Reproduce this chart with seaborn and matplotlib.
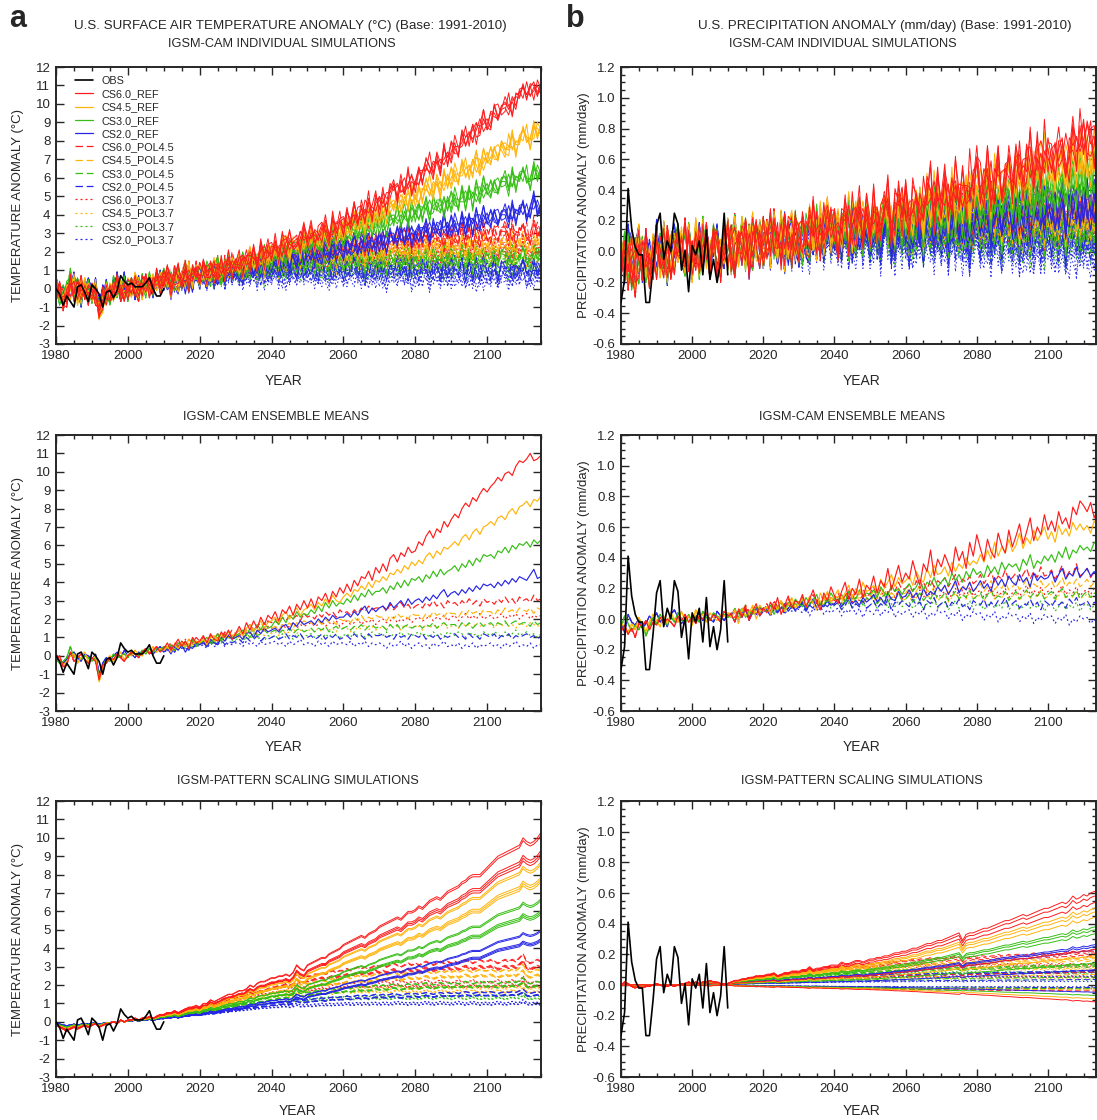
import numpy as np
import pandas as pd
import matplotlib
matplotlib.use("Agg")
import matplotlib.pyplot as plt
from matplotlib.lines import Line2D
from matplotlib.ticker import MultipleLocator, NullLocator, FormatStrFormatter
import seaborn as sns

# ---------------------------------------------------------------- data
YEARS = list(range(1980, 2116))
OBS_YEARS = list(range(1980, 2011))

OBS_TEMP = [0.0, -0.3, -0.9, -0.4, -0.7, -1.0, 0.1, 0.2, -0.2, -0.7,
            0.2, 0.0, -0.3, -1.0, -0.2, -0.1, -0.5, -0.1, 0.7, 0.4,
            0.2, 0.3, 0.1, 0.1, 0.1, 0.3, 0.6, 0.0, -0.4, -0.4, 0.0]
OBS_PRCP = [-0.33, -0.18, 0.41, 0.15, 0.03, -0.02, -0.02, -0.33, -0.33, -0.10,
            0.17, 0.25, -0.05, 0.07, 0.00, 0.25, 0.18, -0.12, 0.01, -0.26,
            0.04, -0.02, 0.07, -0.15, 0.14, -0.18, -0.05, -0.20, -0.07, 0.25, -0.15]

CS_NAMES = ["CS6.0", "CS4.5", "CS3.0", "CS2.0"]
POLICY_NAMES = ["REF", "POL4.5", "POL3.7"]

# --- IGSM-CAM ensemble-mean temperature, units of 0.1 degC
# history 1980-2010 (per climate sensitivity)
T_HIST_CS60 = [-3, 0, -6, -5, 2, -3, -1, 1, -2, -4, -1, -3, -13, -5, -4, -1, -2, 1, -1, -3, 0, 2, 1, -1, 2, 4, 1, 3, 5, 2, 4]
T_HIST_CS45 = [-1, -2, -5, -3, 0, 1, -4, -1, 2, -3, -2, 0, -14, -7, -3, 0, -3, 0, 2, -2, 1, 0, 3, 1, 0, 3, 2, 5, 2, 4, 3]
T_HIST_CS30 = [-2, -4, -3, -1, 5, -1, 0, -2, 0, -1, -3, -1, -11, -6, -2, -3, 1, -1, 0, 1, -1, 2, 1, 0, 3, 1, 4, 2, 4, 3, 5]
T_HIST_CS20 = [1, -3, -4, -2, 1, 2, -1, -3, 1, 0, -2, 1, -10, -4, -1, -2, 0, 2, -1, 3, 0, 1, -1, 2, 1, 3, 2, 1, 3, 5, 2]
# future 2011-2115 (per scenario)
T_CS60_REF = [7, 3, 6, 9, 5, 8, 4, 10, 7, 8, 11, 7, 12, 9, 8, 13, 10, 14, 9, 12,
              16, 12, 18, 14, 19, 15, 21, 17, 22, 20, 24, 19, 25, 23, 27, 22, 28, 25, 30, 26,
              31, 26, 32, 30, 34, 29, 35, 32, 37, 34, 39, 35, 41, 38, 43, 42, 46, 41, 48, 45,
              50, 46, 53, 55, 51, 56, 54, 59, 56, 57, 62, 60, 65, 68, 64, 69, 67, 73, 70, 74,
              77, 75, 80, 83, 81, 86, 84, 88, 91, 89, 92, 94, 97, 95, 99, 100, 98, 103, 106, 105,
              107, 110, 106, 107, 109]
T_CS45_REF = [5, 2, 6, 4, 7, 5, 9, 6, 8, 7, 9, 6, 10, 11, 8, 12, 10, 13, 11, 12,
              14, 11, 15, 17, 13, 16, 19, 15, 18, 19, 21, 18, 22, 24, 20, 23, 26, 22, 25, 26,
              28, 25, 29, 27, 31, 28, 33, 30, 29, 32, 34, 32, 36, 35, 38, 36, 40, 37, 41, 40,
              43, 41, 45, 44, 47, 45, 49, 47, 51, 49, 52, 50, 54, 56, 53, 57, 55, 59, 58, 60,
              62, 60, 64, 66, 63, 67, 69, 66, 70, 71, 73, 71, 75, 76, 74, 78, 80, 77, 81, 82,
              84, 81, 85, 84, 87]
T_CS30_REF = [4, 6, 3, 7, 5, 8, 4, 9, 6, 7, 8, 10, 7, 9, 12, 8, 11, 13, 10, 11,
              12, 14, 11, 15, 13, 17, 14, 18, 15, 16, 19, 17, 21, 18, 22, 20, 24, 21, 23, 22,
              25, 23, 27, 24, 29, 26, 30, 27, 29, 28, 31, 29, 33, 30, 34, 32, 36, 33, 35, 35,
              37, 34, 38, 36, 40, 37, 41, 38, 42, 41, 43, 40, 44, 42, 46, 43, 47, 44, 46, 47,
              49, 46, 50, 48, 52, 49, 53, 51, 55, 54, 55, 53, 57, 56, 59, 56, 60, 58, 61, 60,
              62, 59, 63, 61, 63]
T_CS20_REF = [4, 1, 5, 3, 6, 2, 5, 4, 7, 6, 8, 5, 9, 7, 6, 10, 8, 11, 9, 10,
              11, 9, 12, 13, 10, 14, 12, 15, 13, 14, 15, 13, 16, 17, 14, 18, 16, 19, 17, 18,
              19, 17, 20, 18, 21, 19, 22, 20, 21, 21, 23, 21, 24, 22, 25, 27, 23, 26, 24, 26,
              27, 25, 29, 26, 28, 30, 27, 31, 28, 30, 31, 29, 32, 30, 33, 31, 34, 36, 32, 34,
              35, 33, 36, 34, 37, 35, 38, 36, 39, 38, 39, 37, 40, 38, 41, 39, 42, 40, 43, 42,
              41, 44, 47, 42, 43]
T_CS60_POL45 = [6, 4, 7, 5, 8, 6, 9, 7, 10, 8, 10, 8, 11, 9, 12, 10, 13, 11, 14, 12,
                14, 12, 15, 17, 14, 16, 18, 15, 19, 18, 20, 17, 21, 19, 22, 20, 22, 19, 23, 21,
                22, 20, 23, 21, 24, 22, 24, 21, 25, 23, 24, 22, 25, 23, 26, 24, 27, 25, 26, 26,
                27, 24, 28, 25, 27, 29, 26, 28, 25, 27, 28, 26, 29, 27, 30, 27, 29, 26, 30, 28,
                29, 27, 30, 28, 31, 28, 30, 27, 31, 29, 30, 28, 31, 29, 32, 29, 31, 28, 32, 30,
                31, 29, 33, 30, 31]
T_CS45_POL45 = [4, 6, 3, 7, 5, 8, 5, 9, 6, 7, 8, 7, 10, 8, 11, 9, 12, 10, 11, 11,
                12, 11, 14, 12, 15, 13, 16, 14, 15, 15, 16, 14, 17, 16, 18, 15, 18, 17, 19, 18,
                18, 17, 19, 17, 20, 18, 19, 17, 20, 19, 20, 18, 21, 19, 22, 19, 21, 20, 22, 21,
                21, 19, 22, 20, 23, 21, 22, 20, 23, 22, 22, 20, 23, 21, 24, 22, 23, 21, 24, 23,
                23, 21, 24, 22, 25, 23, 24, 22, 25, 24, 24, 22, 25, 23, 26, 24, 25, 23, 26, 25,
                24, 26, 23, 26, 25]
T_CS30_POL45 = [5, 3, 6, 4, 7, 5, 6, 8, 5, 7, 8, 6, 9, 7, 10, 8, 9, 11, 9, 10,
                11, 9, 12, 10, 13, 11, 12, 14, 12, 13, 14, 12, 14, 13, 15, 12, 14, 15, 13, 14,
                15, 13, 15, 14, 16, 13, 15, 16, 14, 15, 16, 14, 16, 15, 17, 14, 16, 17, 15, 16,
                16, 14, 17, 15, 17, 14, 16, 17, 15, 16, 17, 15, 17, 16, 18, 15, 17, 18, 16, 17,
                17, 15, 18, 16, 18, 15, 17, 18, 16, 17, 18, 16, 18, 17, 19, 16, 18, 19, 17, 18,
                18, 16, 19, 17, 18]
T_CS20_POL45 = [3, 5, 2, 6, 4, 5, 3, 7, 5, 6, 7, 5, 8, 6, 7, 9, 6, 8, 7, 8,
                9, 7, 10, 8, 9, 11, 8, 10, 9, 10, 11, 9, 10, 12, 9, 11, 10, 12, 9, 10,
                11, 9, 10, 12, 9, 11, 10, 12, 9, 10, 11, 9, 12, 10, 11, 9, 12, 10, 11, 11,
                12, 10, 11, 9, 12, 10, 11, 9, 12, 11, 10, 12, 9, 11, 10, 12, 9, 11, 10, 11,
                12, 10, 11, 9, 12, 10, 11, 9, 12, 11, 10, 12, 9, 11, 10, 12, 9, 11, 10, 11,
                12, 10, 11, 9, 11]
T_CS60_POL37 = [5, 7, 4, 8, 6, 9, 5, 8, 7, 8, 9, 7, 10, 8, 11, 9, 12, 10, 11, 11,
                12, 10, 13, 12, 14, 12, 15, 13, 16, 15, 16, 14, 17, 15, 16, 18, 15, 17, 16, 17,
                18, 16, 17, 19, 16, 18, 17, 19, 16, 18, 19, 17, 18, 20, 17, 19, 18, 20, 17, 19,
                20, 18, 19, 21, 18, 20, 19, 21, 18, 20, 21, 19, 20, 22, 19, 21, 20, 22, 19, 21,
                22, 19, 21, 23, 20, 22, 20, 23, 20, 21, 22, 20, 21, 23, 20, 22, 21, 23, 20, 22,
                23, 20, 22, 21, 22]
T_CS45_POL37 = [6, 4, 7, 5, 8, 6, 7, 5, 8, 7, 8, 6, 9, 7, 10, 8, 9, 11, 9, 10,
                10, 9, 11, 10, 12, 10, 12, 11, 13, 12, 13, 11, 14, 12, 13, 15, 12, 14, 13, 14,
                14, 13, 15, 13, 16, 14, 15, 13, 16, 15, 15, 13, 16, 14, 15, 17, 14, 16, 14, 15,
                16, 14, 17, 15, 16, 14, 17, 15, 16, 16, 16, 14, 17, 15, 17, 15, 16, 18, 15, 16,
                17, 15, 18, 16, 17, 15, 18, 16, 17, 17, 17, 15, 18, 16, 18, 16, 17, 15, 18, 17,
                16, 18, 17, 16, 17]
T_CS30_POL37 = [4, 6, 3, 5, 7, 4, 6, 5, 7, 6, 7, 5, 8, 6, 9, 7, 8, 10, 8, 9,
                9, 8, 10, 9, 11, 9, 10, 8, 11, 10, 11, 9, 12, 10, 11, 9, 12, 10, 11, 11,
                12, 10, 11, 9, 12, 10, 13, 11, 10, 11, 12, 10, 13, 11, 12, 10, 11, 13, 11, 12,
                11, 13, 10, 12, 11, 13, 10, 12, 11, 12, 13, 11, 12, 10, 13, 11, 12, 10, 13, 12,
                11, 13, 12, 10, 13, 11, 12, 10, 13, 12, 11, 13, 12, 10, 13, 11, 12, 14, 11, 12,
                13, 11, 12, 10, 12]
T_CS20_POL37 = [3, 5, 2, 4, 6, 3, 5, 4, 6, 5, 6, 4, 7, 5, 6, 8, 5, 7, 6, 7,
                7, 5, 8, 6, 7, 5, 8, 6, 7, 7, 8, 6, 7, 5, 8, 6, 7, 9, 6, 7,
                7, 5, 8, 6, 7, 5, 8, 6, 7, 7, 6, 8, 5, 7, 6, 8, 5, 7, 6, 7,
                6, 4, 7, 5, 6, 8, 5, 7, 4, 6, 7, 5, 6, 4, 7, 5, 6, 8, 5, 6,
                5, 7, 4, 6, 5, 7, 4, 6, 5, 6, 7, 5, 6, 4, 7, 5, 6, 8, 5, 6,
                5, 7, 4, 6, 6]

# --- individual-member deviations from the ensemble mean, 0.1 degC (1980-2115)
T_DEV_1 = [3, -5, 2, -1, 6, -4, 1, -7, 4, 0, -3, 5, -2, -6, 3, 1, -4, 7, -1, -3,
           2, -5, 6, 0, -2, 4, -6, 3, -1, 5, -3, 2, -7, 1, 4, -2, 0, 6, -5, 3,
           -1, -4, 5, 2, -6, 1, 3, -3, 7, -2, 0, -5, 4, -1, 6, -3, 2, -6, 1, 5,
           -4, 0, 3, -7, 2, 4, -1, -5, 6, -2, 1, -3, 5, -6, 3, 0, -4, 7, -2, -1,
           4, -5, 2, 6, -3, 1, -7, 3, 0, -2, 5, -4, 6, -1, 2, -5, 3, -3, 7, -6,
           1, 4, -2, 0, -5, 5, -1, 3, -6, 2, -4, 6, 1, -3, -1, 4, -7, 5, 0, -2,
           3, -5, 6, -4, 2, -1, -6, 4, 1, -3, 5, -2, 0, -4, 6, -1]
T_DEV_2 = [-4, 2, 5, -3, -1, 7, -5, 2, -2, 6, 1, -6, 3, 4, -2, -5, 6, -1, 3, -4,
           5, 1, -3, -6, 4, 2, -1, -5, 6, 0, -2, 5, 3, -4, -6, 2, 7, -3, 1, -1,
           6, -2, -5, 3, 0, -4, 5, -6, 2, 4, -3, 1, 6, -2, -5, 4, -1, 3, -7, 2,
           5, -3, 0, 6, -4, -2, 5, 1, -6, 3, -1, 4, -5, 2, 6, -3, 1, -4, 0, 5,
           -6, 2, 3, -1, -4, 5, -2, 7, -5, 1, 3, -6, 0, 4, -2, 5, -4, 1, -3, 6,
           -5, 2, 4, -1, 6, -3, 0, -6, 3, 1, 5, -4, -2, 6, -1, 3, -5, 2, 4, -6,
           0, 3, -1, -5, 4, 2, -3, 6, -4, 1, -2, 5, -6, 3, 0, -3]
T_DEV_3 = [6, -1, -4, 3, -6, 2, 5, -2, 1, -5, 4, 0, -3, 6, -1, -4, 2, 5, -6, 1,
           -2, 4, -5, 3, 1, -6, 5, -1, -3, 2, 6, -4, 0, 3, -2, -5, 4, 1, -6, 5,
           -3, 2, -1, -6, 4, 5, -2, 0, -4, 6, 1, -3, 5, -5, 0, 3, -6, 4, 2, -1,
           -5, 6, -2, 1, 4, -6, 3, -1, -3, 5, 2, -4, 6, -2, -5, 3, 1, -6, 4, 0,
           -1, 5, -3, -4, 6, 2, -5, 1, 3, -6, 4, -1, -5, 2, 0, 6, -3, -2, 5, -4,
           1, -6, 3, 5, -2, -1, 4, -5, 6, -3, 0, 2, -4, 5, -6, 1, 3, -2, -5, 6,
           -3, 4, 1, -6, 2, 5, -1, -4, 3, -2, 6, -5, 1, 4, -3, 2]
T_DEV_4 = [-2, 4, -6, 5, 1, -3, -1, 6, -4, 2, -5, 3, 1, -2, 6, -6, 0, 4, -3, 5,
           -1, -4, 2, 5, -6, 3, 1, -2, 4, -5, 0, 6, -3, -1, 5, -4, 2, -6, 3, 1,
           -5, 4, 0, -2, 6, -3, -6, 5, -1, 2, 4, -6, 1, 3, -2, 5, -4, 0, 6, -3,
           -1, 2, -6, 4, 5, -3, 1, -5, 2, 6, -4, -1, 3, -5, 0, 6, -2, 4, -6, 1,
           5, -3, -2, 4, 1, -6, 6, -1, -4, 3, -2, 5, -6, 1, 4, -3, 0, 6, -5, 2,
           -1, 3, -4, 6, -2, -5, 5, 1, -3, 4, -6, 0, 2, -1, 5, -4, 3, -6, 1, 6,
           -3, -2, 5, -5, 4, 1, -1, 3, -6, 2, 4, -4, -1, 6, -2, 3]
T_DEV_5 = [1, 3, -3, -5, 4, 0, 6, -4, -2, 5, -1, -3, 6, 2, -5, 3, -2, -4, 1, 6,
           -6, 2, 0, -3, 5, -1, 4, -6, 2, -2, 5, -1, -4, 6, -3, 1, -5, 3, -2, 4,
           -6, 5, 2, -1, -3, 6, -5, 1, 3, -4, 2, 5, -6, 0, 4, -2, -3, 6, -1, -5,
           3, -2, 4, -1, -6, 5, 0, -3, 6, -4, 2, 6, -1, -3, 5, -4, -6, 2, 3, -1,
           -5, 4, 0, 6, -2, -3, 1, -5, 4, 5, -6, 2, 3, -4, 1, -1, 6, -3, -2, 5,
           0, -5, 4, 2, -6, 3, 1, -2, 5, -4, 6, -1, -3, 4, -5, 2, 0, 6, -4, 1,
           -2, -6, 5, 3, -1, -3, 6, -5, 2, 0, 4, -2, -5, 1, 3, -4]

# --- IGSM-CAM ensemble-mean precipitation, units of 0.01 mm/day
P_HIST_CS60 = [-8, -4, -10, -6, -12, -3, -5, -1, -7, -2, -4, 1, -3, 0, -2, -5, 2, -1, 3, -2, 1, -3, 2, 0, 4, -1, 3, 1, -2, 5, 2]
P_HIST_CS45 = [-2, -6, -9, -3, -7, 1, -4, -8, -2, 3, -1, -5, 2, -3, 4, 0, -2, 5, -1, 2, -4, 6, 0, 3, -2, 4, 1, -1, 3, 2, 4]
P_HIST_CS30 = [-6, 2, -3, -8, -4, -7, -2, -11, -5, 1, -3, 3, -1, -4, 2, -2, 4, 0, -3, 3, -1, 2, -2, 5, 1, -1, 4, 2, 0, 3, 1]
P_HIST_CS20 = [-3, -9, 3, -2, -4, 0, -6, -3, 2, -1, 4, -2, 1, -5, 3, 6, 1, -3, 0, 2, -2, 1, 4, -1, 3, 0, -2, 5, 2, -1, 3]
P_CS60_REF = [3, -2, 6, 1, 8, -1, 5, 10, 2, 7, 4, 11, 6, 14, 3, 9, 15, 7, 12, 10,
              16, 8, 13, 19, 11, 6, 17, 12, 21, 15, 10, 18, 24, 13, 20, 16, 26, 14, 22, 19,
              28, 17, 25, 21, 33, 19, 27, 35, 24, 30, 26, 38, 29, 22, 36, 31, 45, 28, 39, 34,
              42, 36, 30, 47, 38, 44, 33, 50, 41, 55, 46, 38, 52, 44, 40, 56, 48, 43, 58, 47,
              54, 62, 49, 57, 66, 51, 60, 55, 68, 58, 64, 57, 70, 62, 66, 59, 73, 68, 77, 74,
              70, 76, 66, 72, 68]
P_CS45_REF = [1, 5, -3, 7, 2, 4, 9, 0, 6, 5, 8, 3, 10, 6, 12, 5, 9, 14, 7, 11,
              13, 8, 15, 10, 6, 17, 12, 18, 11, 15, 19, 13, 17, 22, 14, 20, 16, 24, 18, 19,
              22, 17, 26, 20, 24, 29, 21, 27, 23, 25, 28, 22, 31, 26, 24, 33, 27, 35, 29, 30,
              34, 28, 37, 31, 36, 33, 40, 35, 38, 36, 42, 37, 45, 39, 50, 41, 47, 43, 52, 44,
              48, 56, 46, 53, 49, 58, 51, 55, 60, 52, 57, 50, 61, 55, 59, 54, 63, 58, 62, 58,
              61, 56, 64, 60, 62]
P_CS30_REF = [2, -1, 4, 7, 1, 5, 3, 8, 4, 6, 5, 9, 3, 8, 11, 6, 10, 7, 13, 10,
              8, 14, 10, 12, 16, 9, 13, 11, 17, 13, 12, 16, 11, 18, 14, 13, 19, 15, 17, 16,
              19, 14, 21, 17, 15, 22, 18, 20, 16, 20, 23, 18, 21, 26, 19, 24, 22, 27, 21, 24,
              27, 22, 30, 25, 29, 24, 31, 27, 33, 29, 31, 27, 35, 30, 34, 29, 37, 32, 36, 34,
              36, 31, 39, 35, 42, 33, 38, 36, 41, 38, 42, 37, 44, 40, 47, 39, 45, 43, 48, 45,
              47, 44, 50, 48, 52]
P_CS20_REF = [3, -2, 5, 1, 6, -1, 4, 7, 2, 5, 6, 3, 9, 4, 7, 10, 5, 8, 6, 8,
              11, 6, 9, 13, 7, 10, 8, 12, 9, 10, 13, 8, 11, 15, 10, 12, 9, 14, 11, 13,
              16, 11, 14, 10, 17, 13, 12, 18, 14, 15, 19, 14, 17, 12, 20, 15, 18, 16, 21, 18,
              22, 16, 20, 25, 17, 21, 19, 24, 18, 21, 25, 20, 23, 18, 27, 22, 26, 21, 28, 24,
              22, 29, 24, 27, 21, 30, 25, 28, 26, 27, 31, 24, 29, 33, 26, 30, 28, 34, 27, 30,
              33, 28, 31, 27, 30]
P_CS60_POL45 = [4, 1, 7, 3, 9, 5, 2, 8, 6, 7, 10, 5, 12, 8, 11, 6, 13, 9, 12, 11,
                14, 9, 12, 16, 10, 15, 13, 17, 11, 14, 17, 12, 15, 19, 13, 18, 16, 20, 14, 17,
                21, 15, 19, 23, 17, 20, 18, 24, 19, 20, 22, 18, 25, 20, 24, 19, 26, 21, 25, 23,
                27, 21, 25, 29, 22, 26, 24, 28, 23, 25, 29, 23, 27, 31, 24, 28, 26, 32, 25, 27,
                30, 25, 29, 33, 26, 31, 27, 34, 28, 29, 32, 26, 30, 35, 27, 31, 29, 36, 28, 30,
                33, 27, 31, 29, 30]
P_CS45_POL45 = [2, 6, 0, 5, 8, 3, 7, 4, 9, 6, 8, 4, 10, 7, 12, 6, 9, 11, 7, 10,
                12, 8, 14, 10, 13, 9, 15, 11, 14, 13, 15, 11, 17, 13, 16, 12, 18, 14, 16, 15,
                18, 13, 16, 20, 14, 17, 15, 19, 16, 17, 20, 15, 18, 22, 16, 19, 17, 21, 18, 19,
                21, 17, 20, 23, 18, 22, 19, 24, 18, 20, 23, 18, 21, 25, 19, 22, 20, 24, 19, 21,
                24, 19, 22, 26, 20, 23, 21, 25, 20, 22, 25, 20, 23, 27, 21, 24, 22, 26, 21, 23,
                26, 21, 24, 22, 23]
P_CS30_POL45 = [3, 7, 1, 5, 9, 2, 6, 4, 8, 6, 7, 4, 10, 6, 9, 5, 11, 8, 10, 9,
                12, 7, 10, 13, 8, 11, 9, 14, 10, 11, 13, 9, 12, 10, 15, 11, 13, 9, 14, 12,
                15, 10, 13, 16, 11, 14, 12, 17, 12, 13, 16, 11, 14, 17, 12, 15, 13, 18, 13, 14,
                17, 12, 15, 18, 13, 16, 14, 19, 13, 15, 17, 12, 16, 19, 13, 15, 14, 18, 12, 15,
                18, 13, 16, 19, 14, 17, 15, 18, 13, 16, 18, 13, 17, 20, 14, 16, 15, 19, 13, 16,
                18, 14, 17, 15, 16]
P_CS20_POL45 = [2, 6, -1, 4, 7, 1, 5, 3, 8, 5, 6, 2, 8, 5, 9, 4, 7, 10, 5, 7,
                10, 5, 9, 7, 12, 6, 10, 8, 11, 9, 11, 6, 9, 13, 7, 10, 8, 12, 7, 9,
                12, 7, 10, 8, 13, 6, 11, 9, 12, 10, 8, 13, 9, 11, 6, 12, 10, 14, 8, 10,
                12, 7, 11, 9, 13, 8, 10, 6, 12, 10, 9, 13, 7, 11, 8, 12, 10, 14, 8, 10,
                12, 7, 10, 9, 13, 8, 11, 6, 12, 10, 8, 12, 9, 11, 7, 13, 10, 14, 9, 10,
                12, 8, 11, 9, 10]
P_CS60_POL37 = [2, 7, 1, 5, 9, 4, 8, 3, 7, 6, 9, 5, 11, 7, 12, 8, 10, 13, 9, 10,
                12, 8, 14, 10, 13, 9, 15, 11, 14, 12, 15, 10, 13, 17, 11, 14, 12, 16, 13, 14,
                16, 12, 15, 18, 13, 17, 14, 19, 13, 15, 17, 13, 16, 19, 14, 18, 15, 20, 14, 16,
                18, 13, 16, 20, 15, 19, 14, 21, 15, 17, 19, 14, 17, 21, 15, 18, 16, 20, 14, 17,
                19, 15, 18, 22, 16, 19, 15, 21, 16, 18, 20, 15, 18, 22, 16, 19, 17, 21, 15, 18,
                19, 16, 20, 17, 18]
P_CS45_POL37 = [4, 1, 6, 3, 8, 2, 7, 5, 9, 6, 7, 4, 9, 6, 11, 5, 10, 8, 10, 9,
                11, 7, 10, 13, 8, 12, 9, 14, 10, 11, 12, 9, 14, 10, 13, 11, 15, 10, 13, 12,
                14, 10, 13, 16, 11, 15, 12, 17, 12, 13, 15, 11, 14, 17, 12, 16, 13, 18, 12, 14,
                15, 11, 14, 17, 12, 16, 13, 18, 13, 14, 16, 12, 15, 18, 13, 17, 14, 18, 13, 15,
                16, 12, 15, 18, 13, 17, 14, 19, 13, 15, 16, 12, 15, 19, 13, 17, 14, 18, 13, 15,
                16, 13, 17, 14, 15]
P_CS30_POL37 = [3, 6, 0, 4, 8, 2, 5, 3, 7, 5, 6, 3, 9, 5, 8, 4, 10, 7, 9, 8,
                10, 6, 9, 11, 7, 10, 8, 12, 7, 9, 10, 6, 9, 12, 7, 10, 8, 11, 7, 9,
                11, 7, 10, 13, 7, 10, 8, 12, 8, 10, 11, 7, 9, 12, 6, 10, 8, 13, 7, 10,
                11, 6, 9, 12, 7, 10, 8, 12, 6, 10, 10, 6, 9, 11, 7, 10, 7, 12, 6, 9,
                10, 6, 8, 11, 7, 10, 7, 12, 5, 9, 10, 5, 8, 12, 6, 9, 7, 11, 5, 9,
                10, 6, 9, 7, 9]
P_CS20_POL37 = [1, 5, -2, 4, 7, 0, 5, 2, 6, 5, 7, 2, 6, 4, 8, 3, 7, 5, 8, 6,
                4, 8, 2, 7, 5, 9, 3, 6, 4, 6, 7, 2, 6, 4, 8, 3, 7, 1, 6, 5,
                3, 7, 2, 6, 4, 8, 1, 5, 3, 5, 6, 1, 5, 3, 7, 0, 4, 2, 6, 4,
                5, 0, 4, 2, 6, -1, 3, 1, 5, 3, 4, -1, 3, 1, 5, -2, 2, 0, 4, 2,
                3, -2, 2, 0, 4, -3, 1, -1, 3, 1, 2, -3, 1, -1, 3, -4, 0, -2, 2, 0,
                1, -3, 0, -4, -2]

# --- individual-member precipitation deviations, 0.01 mm/day (1980-2115)
P_DEV_1 = [8, -12, 15, -4, -18, 6, 11, -9, 3, -15, 12, -6, -14, 17, 2, -10, 7, -3, 19, -11,
           -5, 13, -16, 4, 9, -8, 14, -19, 1, 10, -13, 6, 18, -7, -2, 12, -17, 5, 11, -4,
           16, -9, -1, 14, -12, 3, -18, 8, 13, -6, -15, 10, 2, -11, 17, -5, -8, 15, -3, 6,
           12, -16, 7, -1, -13, 19, -4, 9, -10, 4, -7, 14, -12, 5, 16, -9, 1, -17, 11, -2,
           15, -6, -11, 8, 3, -14, 18, -5, -9, 12, -3, 7, -16, 13, -1, -8, 10, -12, 17, -4,
           6, -15, 9, 2, -18, 14, -7, 4, 11, -10, -2, 16, -13, 7, -5, 12, -9, 1, -14, 18,
           -6, 3, 13, -11, 8, -17, 5, 15, -3, -8, 10, -12, 4, 16, -7, 2]
P_DEV_2 = [-10, 5, -3, 16, -8, -14, 12, 2, -17, 9, 4, -11, 18, -6, -13, 7, 14, -2, -9, 11,
           -16, 3, 8, -12, 15, -5, -1, 13, -18, 6, 10, -7, -15, 4, 12, -10, 2, 17, -6, -13,
           5, 9, -11, 16, -3, -8, 14, -14, 1, 7, -4, -17, 11, 3, -9, 15, -12, 6, 18, -2,
           -8, 4, -13, 10, 7, -15, 12, -1, -6, 16, 3, -10, 9, -18, 13, -4, -7, 11, 2, -14,
           17, -3, -12, 5, 8, -16, 6, 14, -9, -1, -13, 11, 4, -6, 15, -11, -2, 9, -17, 12,
           1, -8, 16, -4, -12, 7, 13, -15, 3, 5, -10, 14, -5, -16, 10, 2, -7, 18, -11, -3,
           9, -13, 6, 11, -1, -18, 15, -4, 7, -9, 12, -6, -14, 3, 17, -8]
P_DEV_3 = [14, -7, 2, -13, 9, 17, -11, -4, 6, -16, 10, 1, -8, 13, -15, 5, -3, 11, -12, 16,
           -2, -9, 15, -6, 3, -17, 8, 12, -5, -10, 18, -4, -11, 7, 1, -14, 13, -8, 4, 9,
           -16, 2, 11, -3, -12, 15, -7, 5, -18, 10, 6, -13, -2, 16, -9, 4, 12, -15, 1, -6,
           13, -11, 5, -4, 17, -8, -14, 3, 9, -1, -12, 16, -5, -10, 7, 2, -17, 14, -3, 11,
           -7, -15, 10, 4, -8, 13, -1, -11, 18, -6, 2, 15, -14, 6, -4, -9, 12, -2, -16, 8,
           5, -12, 3, 17, -10, -5, 9, -13, 14, 1, -8, 6, -15, 11, 4, -18, 7, 13, -2, -9,
           16, -3, -11, 2, 10, -7, -14, 8, 5, -12, -1, 13, -6, 9, -15, 4]
P_DEV_4 = [-6, 11, -15, 3, 13, -2, -10, 16, -8, 5, -14, 9, 4, -17, 7, 12, -5, -1, 15, -11,
           6, -3, -12, 18, -9, 2, 10, -16, 5, -7, -1, 14, -10, -5, 16, 3, -13, 8, -4, 12,
           -11, 1, 17, -8, 5, -15, 9, -2, -6, 14, -17, 7, -4, 11, -1, -12, 16, -9, 3, 8,
           -5, -14, 10, 2, -16, 6, 13, -7, -3, 15, -9, 1, 12, -13, 4, 17, -6, -11, 8, -2,
           11, -18, 5, 9, -4, -10, 14, -6, 1, 16, -12, 3, -7, 18, -15, 6, -1, 10, -8, -13,
           7, 12, -3, -11, 15, -6, 2, -14, 9, 4, -16, 8, 1, -5, 13, -9, -12, 6, 17, -4,
           3, -10, 14, -15, -2, 11, 5, -7, -13, 16, -8, 2, 9, -12, 6, -3]
P_DEV_5 = [2, -9, 13, -17, 5, 8, -14, 10, -1, -6, 17, -12, -3, 9, -16, 4, 11, -7, -13, 14,
           -8, 16, 1, -11, 6, -14, 12, 3, -9, -4, 15, -16, 7, 2, -10, 13, -6, -15, 9, 1,
           -3, 12, -14, 10, -7, -1, 16, -11, 4, -13, 8, 5, -9, -17, 14, -3, 6, -10, 15, -12,
           1, 9, -6, 13, -15, -2, 4, 17, -12, 7, -16, -3, 11, -8, 2, 14, -13, 5, -5, 18,
           -10, 6, -4, -13, 16, -8, 3, 11, -17, 9, -1, -12, 8, -5, 13, 2, -15, 7, -11, 4,
           14, -6, -10, 16, -2, -9, 12, -16, -4, 11, 3, -13, 10, -7, -12, 15, -1, -5, 9, -17,
           13, 6, -8, -3, 12, -14, 1, 10, -16, 5, -11, 15, -2, -9, 8, -5]

# --- pattern-scaling base series (CS6.0, first pattern); temp 0.1 degC, precip 0.01 mm/day
PS_T_HIST = [-2, -3, -4, -5, -4, -3, -4, -3, -2, -3, -2, -1, -3, -2, -1, -1, 0, -1, 1, 0,
             1, 1, 2, 1, 2, 2, 3, 2, 3, 4]                       # 1980-2009
PS_T_REF = [4, 5, 5, 6, 5, 6, 7, 8, 8, 9, 8, 10, 10, 12, 11, 12, 13, 14, 15, 15,
            16, 17, 17, 18, 20, 19, 21, 22, 22, 23, 24, 24, 25, 25, 26, 25, 27, 31, 29, 28,
            31, 32, 33, 34, 35, 35, 37, 38, 39, 40, 42, 43, 44, 45, 46, 47, 46, 48, 49, 50,
            52, 53, 54, 55, 56, 57, 56, 58, 60, 60, 61, 63, 62, 64, 66, 67, 68, 67, 69, 71,
            72, 73, 74, 76, 77, 79, 80, 80, 80, 82, 84, 86, 88, 90, 91, 92, 93, 94, 95, 96,
            100, 98, 97, 98, 100, 103]                              # 2010-2115
PS_T_POL45 = [4, 5, 5, 6, 5, 6, 7, 7, 8, 8, 8, 9, 10, 11, 10, 11, 12, 13, 13, 14,
              15, 15, 16, 17, 18, 17, 18, 19, 19, 20, 21, 21, 22, 22, 23, 22, 23, 26, 24, 24,
              25, 25, 26, 26, 27, 26, 27, 28, 27, 28, 28, 29, 28, 29, 30, 29, 30, 29, 30, 31,
              30, 31, 30, 31, 32, 31, 30, 31, 32, 31, 32, 31, 32, 33, 32, 31, 32, 33, 32, 33,
              32, 33, 32, 33, 34, 33, 32, 33, 34, 33, 33, 34, 33, 32, 33, 34, 33, 34, 33, 35,
              37, 33, 32, 33, 34, 33]
PS_T_POL37 = [4, 5, 5, 6, 5, 6, 7, 7, 8, 8, 8, 9, 9, 10, 10, 11, 11, 12, 12, 13,
              13, 14, 14, 15, 15, 16, 16, 17, 17, 17, 18, 18, 18, 19, 19, 18, 19, 21, 19, 19,
              20, 19, 20, 20, 21, 20, 21, 20, 21, 21, 21, 22, 21, 21, 22, 21, 22, 21, 22, 22,
              21, 22, 22, 21, 22, 23, 22, 22, 21, 22, 22, 21, 22, 23, 22, 21, 22, 23, 22, 22,
              21, 22, 23, 22, 21, 22, 23, 22, 21, 22, 22, 21, 22, 23, 22, 21, 22, 23, 22, 22,
              25, 22, 21, 22, 22, 21]
PS_P_HIST = [0, 2, 1, -1, -2, -1, -2, -1, -1, 0, 1, 0, -1, -1, 0, -1, 0, 1, 1, 2,
             1, 2, 1, 2, 2, 3, 2, 2, 1, 1]
PS_P_REF = [1, 2, 3, 3, 4, 4, 5, 5, 6, 6, 6, 7, 7, 8, 6, 7, 8, 8, 9, 9,
            9, 10, 10, 12, 10, 11, 11, 12, 12, 13, 13, 13, 15, 14, 14, 15, 16, 16, 15, 16,
            17, 17, 18, 18, 19, 19, 20, 21, 21, 22, 22, 23, 24, 24, 25, 26, 27, 27, 28, 29,
            29, 30, 31, 32, 33, 34, 29, 33, 34, 34, 35, 36, 37, 37, 38, 39, 40, 41, 42, 42,
            43, 44, 45, 46, 45, 46, 47, 48, 49, 50, 50, 51, 52, 53, 54, 53, 55, 58, 56, 57,
            59, 58, 60, 61, 61, 62]
PS_P_POL45 = [1, 2, 3, 3, 4, 4, 5, 5, 6, 6, 6, 7, 7, 8, 6, 7, 8, 8, 9, 9,
              9, 10, 10, 11, 10, 10, 11, 11, 12, 12, 12, 12, 13, 12, 13, 13, 14, 14, 13, 14,
              14, 14, 15, 14, 15, 15, 16, 15, 16, 16, 16, 16, 17, 16, 17, 17, 17, 18, 17, 18,
              18, 17, 18, 18, 19, 18, 16, 18, 18, 19, 18, 19, 19, 18, 19, 19, 20, 19, 19, 20,
              19, 20, 20, 19, 20, 20, 21, 20, 20, 21, 20, 21, 21, 20, 21, 21, 22, 21, 21, 22,
              22, 21, 22, 22, 21, 22]
PS_P_POL37 = [1, 2, 3, 3, 4, 4, 5, 5, 5, 6, 6, 6, 7, 7, 6, 7, 7, 8, 8, 8,
              8, 9, 9, 10, 9, 9, 10, 10, 10, 11, 11, 11, 11, 11, 12, 12, 12, 12, 12, 12,
              12, 12, 13, 12, 13, 13, 13, 12, 13, 13, 13, 13, 14, 13, 14, 14, 13, 14, 14, 13,
              14, 14, 13, 14, 14, 14, 12, 14, 14, 14, 14, 13, 14, 14, 13, 14, 14, 13, 14, 14,
              13, 14, 14, 13, 14, 14, 13, 14, 14, 13, 14, 14, 13, 14, 14, 13, 14, 14, 13, 14,
              14, 13, 14, 14, 13, 14]
PS_T_CS_FACTOR = [1.0, 0.845, 0.65, 0.485]       # CS6.0, CS4.5, CS3.0, CS2.0
PS_P_CS_FACTOR = [1.0, 0.82, 0.62, 0.43]
PS_T_PATTERN = [1.0, 0.985, 0.905, 0.89, 0.875]
PS_P_PATTERN = [1.0, 0.95, 0.88, 0.38, -0.18]

TITLE_T = "U.S. SURFACE AIR TEMPERATURE ANOMALY (\u00b0C) (Base: 1991-2010)"
TITLE_P = "U.S. PRECIPITATION ANOMALY (mm/day) (Base: 1991-2010)"
ROW_TITLES = ["IGSM-CAM INDIVIDUAL SIMULATIONS", "IGSM-CAM ENSEMBLE MEANS",
              "IGSM-PATTERN SCALING SIMULATIONS"]

# ---------------------------------------------------------------- tables
T_HIST = dict(zip(CS_NAMES, [T_HIST_CS60, T_HIST_CS45, T_HIST_CS30, T_HIST_CS20]))
P_HIST = dict(zip(CS_NAMES, [P_HIST_CS60, P_HIST_CS45, P_HIST_CS30, P_HIST_CS20]))
T_FUT = {
    ("CS6.0", "REF"): T_CS60_REF, ("CS4.5", "REF"): T_CS45_REF,
    ("CS3.0", "REF"): T_CS30_REF, ("CS2.0", "REF"): T_CS20_REF,
    ("CS6.0", "POL4.5"): T_CS60_POL45, ("CS4.5", "POL4.5"): T_CS45_POL45,
    ("CS3.0", "POL4.5"): T_CS30_POL45, ("CS2.0", "POL4.5"): T_CS20_POL45,
    ("CS6.0", "POL3.7"): T_CS60_POL37, ("CS4.5", "POL3.7"): T_CS45_POL37,
    ("CS3.0", "POL3.7"): T_CS30_POL37, ("CS2.0", "POL3.7"): T_CS20_POL37,
}
P_FUT = {
    ("CS6.0", "REF"): P_CS60_REF, ("CS4.5", "REF"): P_CS45_REF,
    ("CS3.0", "REF"): P_CS30_REF, ("CS2.0", "REF"): P_CS20_REF,
    ("CS6.0", "POL4.5"): P_CS60_POL45, ("CS4.5", "POL4.5"): P_CS45_POL45,
    ("CS3.0", "POL4.5"): P_CS30_POL45, ("CS2.0", "POL4.5"): P_CS20_POL45,
    ("CS6.0", "POL3.7"): P_CS60_POL37, ("CS4.5", "POL3.7"): P_CS45_POL37,
    ("CS3.0", "POL3.7"): P_CS30_POL37, ("CS2.0", "POL3.7"): P_CS20_POL37,
}
T_DEV = [T_DEV_1, T_DEV_2, T_DEV_3, T_DEV_4, T_DEV_5]
P_DEV = [P_DEV_1, P_DEV_2, P_DEV_3, P_DEV_4, P_DEV_5]
PS_T = {"REF": PS_T_REF, "POL4.5": PS_T_POL45, "POL3.7": PS_T_POL37}
PS_P = {"REF": PS_P_REF, "POL4.5": PS_P_POL45, "POL3.7": PS_P_POL37}

years = np.array(YEARS)
NY = len(YEARS)


def arr(values, scale, label):
    a = np.asarray(values, dtype=float) / scale
    if a.size != NY:
        raise ValueError(f"{label}: {a.size} values, expected {NY}")
    return a


frames = {k: [] for k in ["t_ind", "t_mean", "t_ps", "p_ind", "p_mean", "p_ps"]}
for pol in POLICY_NAMES:
    for ci, cs in enumerate(CS_NAMES):
        name = f"{cs}_{pol}"
        tm = arr(T_HIST[cs] + T_FUT[(cs, pol)], 10.0, name + " T")
        pm = arr(P_HIST[cs] + P_FUT[(cs, pol)], 100.0, name + " P")
        frames["t_mean"].append(pd.DataFrame({"year": years, "value": tm, "scenario": name, "member": 0}))
        frames["p_mean"].append(pd.DataFrame({"year": years, "value": pm, "scenario": name, "member": 0}))
        for m in range(5):
            td = arr(T_DEV[m], 10.0, f"T_DEV_{m+1}")
            pd_ = arr(P_DEV[m], 100.0, f"P_DEV_{m+1}")
            frames["t_ind"].append(pd.DataFrame({"year": years, "value": tm + td, "scenario": name, "member": m}))
            frames["p_ind"].append(pd.DataFrame({"year": years, "value": pm + pd_, "scenario": name, "member": m}))
        tb = arr(PS_T_HIST + PS_T[pol], 10.0, "PS_T " + pol)
        pb = arr(PS_P_HIST + PS_P[pol], 100.0, "PS_P " + pol)
        for k in range(5):
            frames["t_ps"].append(pd.DataFrame({"year": years,
                                                "value": PS_T_CS_FACTOR[ci] * PS_T_PATTERN[k] * tb,
                                                "scenario": name, "member": k}))
            frames["p_ps"].append(pd.DataFrame({"year": years,
                                                "value": PS_P_CS_FACTOR[ci] * PS_P_PATTERN[k] * pb,
                                                "scenario": name, "member": k}))
DF = {k: pd.concat(v, ignore_index=True) for k, v in frames.items()}

# ---------------------------------------------------------------- style
sns.set_style("ticks")
plt.rcParams["font.family"] = ["Liberation Sans", "DejaVu Sans"]
plt.rcParams["axes.unicode_minus"] = False

CS_COLORS = {"CS6.0": "#ff1c1c", "CS4.5": "#ffb40a", "CS3.0": "#36be14", "CS2.0": "#2626e6"}
POL_DASHES = {"REF": "", "POL4.5": (6, 3), "POL3.7": (1.6, 2.4)}
LEGEND_ORDER = [f"{cs}_{pol}" for pol in POLICY_NAMES for cs in CS_NAMES]
DRAW_ORDER = LEGEND_ORDER[::-1]
PALETTE = {f"{cs}_{pol}": CS_COLORS[cs] for pol in POLICY_NAMES for cs in CS_NAMES}
DASHES = {f"{cs}_{pol}": POL_DASHES[pol] for pol in POLICY_NAMES for cs in CS_NAMES}

W, H = 1097, 1120
fig = plt.figure(figsize=(W / 100, H / 100), dpi=100)

ROWS = [(67, 344), (435, 711), (801, 1077)]
COLS = [(56, 541), (621, 1096)]


def add_axes(col, row):
    (l, r), (t, b) = COLS[col], ROWS[row]
    return fig.add_axes([l / W, 1 - b / H, (r - l) / W, (b - t) / H])


def draw(ax, df, lw, units=True):
    sns.lineplot(data=df, x="year", y="value", hue="scenario", style="scenario",
                 units="member" if units else None, estimator=None, sort=False,
                 hue_order=DRAW_ORDER, style_order=DRAW_ORDER,
                 palette=PALETTE, dashes=DASHES, linewidth=lw, legend=False, ax=ax)


def style_axis(ax, kind):
    if kind == "t":
        ax.set_xlim(1980, 2115)
        ax.set_ylim(-3, 12)
        ax.yaxis.set_major_locator(MultipleLocator(1))
        ax.yaxis.set_minor_locator(NullLocator())
    else:
        ax.set_xlim(1980, 2113.5)
        ax.set_ylim(-0.6, 1.2)
        ax.yaxis.set_major_locator(MultipleLocator(0.2))
        ax.yaxis.set_minor_locator(MultipleLocator(0.05))
        ax.yaxis.set_major_formatter(FormatStrFormatter("%.1f"))
    ax.xaxis.set_major_locator(MultipleLocator(20))
    ax.xaxis.set_minor_locator(MultipleLocator(5))
    ax.tick_params(which="both", direction="in", top=True, right=True,
                   labelsize=9.5, width=1.0, pad=4)
    ax.tick_params(which="major", length=6)
    ax.tick_params(which="minor", length=3)
    for s in ax.spines.values():
        s.set_linewidth(1.4)
    ax.set_xlabel("")
    ax.set_ylabel("")


for col, kind in enumerate(["t", "p"]):
    obs = OBS_TEMP if kind == "t" else OBS_PRCP
    for row, key in enumerate(["ind", "mean", "ps"]):
        ax = add_axes(col, row)
        draw(ax, DF[f"{kind}_{key}"], lw=0.7 if key != "mean" else 0.85, units=(key != "mean"))
        sns.lineplot(x=OBS_YEARS, y=obs, color="black", linewidth=1.2, ax=ax,
                     estimator=None, sort=False, zorder=5)
        style_axis(ax, kind)
        if col == 0 and row == 0:
            handles = [Line2D([], [], color="black", lw=1.2, label="OBS")]
            for name in LEGEND_ORDER:
                h = Line2D([], [], color=PALETTE[name], lw=0.9, label=name)
                if DASHES[name]:
                    h.set_dashes(DASHES[name])
                handles.append(h)
            ax.legend(handles=handles, loc="upper left", bbox_to_anchor=(19 / 485, 1 - 9 / 277),
                      frameon=False, fontsize=7.8, handlelength=1.7, handletextpad=0.7,
                      labelspacing=0.3, borderaxespad=0, borderpad=0)

# ---------------------------------------------------------------- texts
def ftext(x, y, s, **kw):
    fig.text(x / W, 1 - y / H, s, **kw)


ftext(9, 27, "a", fontsize=22, fontweight="bold", ha="left", va="baseline")
ftext(566, 27, "b", fontsize=22, fontweight="bold", ha="left", va="baseline")
ftext(290, 25.7, TITLE_T, fontsize=9.6, ha="center", va="center")
ftext(885, 25.7, TITLE_P, fontsize=9.6, ha="center", va="center")

SUB_POS = [[(282, 44), (276, 417), (298, 781)], [(843, 44), (852, 417), (862, 781)]]
YEAR_POS = [[(284, 381), (284, 747), (298, 1111)], [(862, 381), (862, 747), (862, 1111)]]
for col in range(2):
    for row in range(3):
        x, y = SUB_POS[col][row]
        ftext(x, y, ROW_TITLES[row], fontsize=9.2, ha="center", va="center")
        x, y = YEAR_POS[col][row]
        ftext(x, y, "YEAR", fontsize=10, ha="center", va="center")
        yc = (ROWS[row][0] + ROWS[row][1]) / 2
        if col == 0:
            ftext(18, yc, "TEMPERATURE ANOMALY (\u00b0C)", fontsize=9.5, rotation=90,
                  ha="center", va="center")
        else:
            ftext(584, yc, "PRECIPITATION ANOMALY (mm/day)", fontsize=9.5, rotation=90,
                  ha="center", va="center")

fig.savefig("out.png", dpi=100)
